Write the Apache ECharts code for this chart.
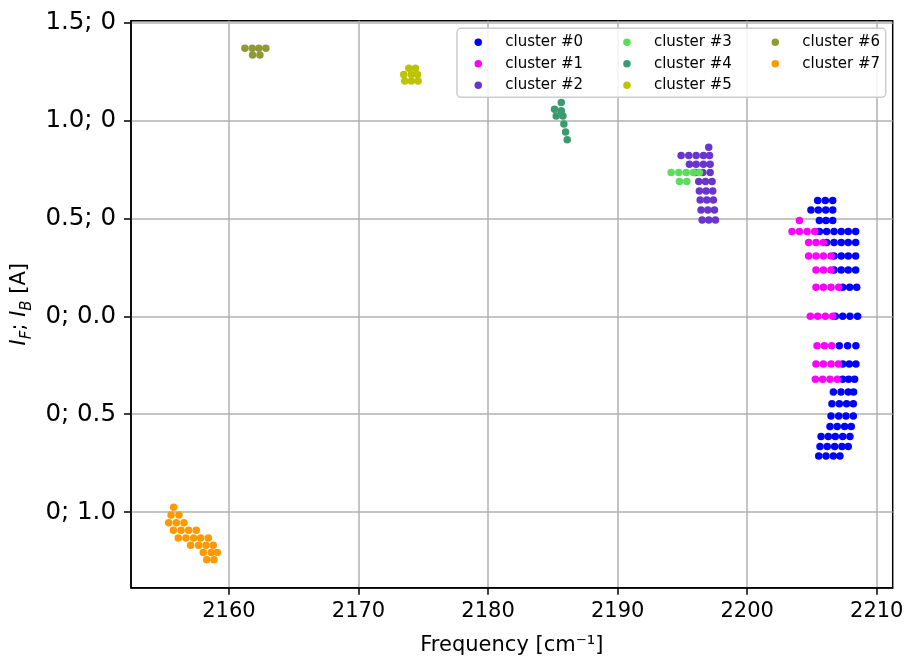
<!DOCTYPE html>
<html><head><meta charset="utf-8">
<script src="https://cdn.jsdelivr.net/npm/echarts@6/dist/echarts.min.js"></script>
<style>html,body{margin:0;padding:0;background:#fff}#c{width:907px;height:658px}</style>
</head><body><div id="c"></div>
<script>
const seriesNames = ['cluster #0','cluster #1','cluster #2','cluster #3','cluster #4','cluster #5','cluster #6','cluster #7'];
const seriesColors = ['#0000ff','#ff00ff','#6a35cf','#5bdd5b','#3a9b6e','#bcc400','#8f9a36','#ff9900'];

const cluster0 = [
  [2205.44,0.590],[2206.03,0.590],[2206.60,0.590],
  [2204.92,0.542],[2205.49,0.542],[2206.06,0.542],[2206.60,0.542],
  [2205.57,0.488],[2206.08,0.488],[2206.60,0.488],
  [2205.57,0.432],[2206.13,0.432],[2206.70,0.432],[2207.26,0.432],[2207.80,0.432],[2208.37,0.432],
  [2206.13,0.376],[2206.70,0.376],[2207.26,0.376],[2207.80,0.376],[2208.37,0.376],
  [2206.70,0.308],[2207.26,0.308],[2207.80,0.308],[2208.37,0.308],
  [2206.70,0.236],[2207.26,0.236],[2207.80,0.236],[2208.37,0.236],
  [2207.37,0.148],[2207.91,0.148],[2208.45,0.148],
  [2206.80,0.000],[2207.37,0.000],[2207.93,0.000],[2208.52,0.000],
  [2207.11,-0.151],[2207.75,-0.151],[2208.39,-0.151],
  [2207.37,-0.243],[2207.88,-0.243],[2208.39,-0.243],
  [2207.37,-0.322],[2207.83,-0.322],[2208.29,-0.322],
  [2206.65,-0.386],[2207.24,-0.386],[2207.80,-0.386],[2208.21,-0.386],
  [2206.54,-0.447],[2207.11,-0.447],[2207.67,-0.447],[2208.19,-0.447],
  [2206.47,-0.509],[2207.06,-0.509],[2207.62,-0.509],[2208.19,-0.509],
  [2206.39,-0.563],[2206.95,-0.563],[2207.52,-0.563],[2208.03,-0.563],
  [2205.70,-0.614],[2206.26,-0.614],[2206.80,-0.614],[2207.37,-0.614],[2207.93,-0.614],
  [2205.62,-0.665],[2206.18,-0.665],[2206.75,-0.665],[2207.31,-0.665],[2207.80,-0.665],
  [2205.52,-0.713],[2206.08,-0.713],[2206.65,-0.713],[2207.16,-0.713]
];
const cluster1 = [
  [2204.03,0.488],
  [2203.46,0.432],[2204.03,0.432],[2204.62,0.432],[2205.21,0.432],
  [2204.74,0.376],[2205.31,0.376],[2205.88,0.376],
  [2204.74,0.308],[2205.31,0.308],[2205.88,0.308],[2206.47,0.308],
  [2205.31,0.236],[2205.88,0.236],[2206.47,0.236],
  [2205.31,0.148],[2205.88,0.148],[2206.47,0.148],[2207.06,0.148],
  [2204.87,0.000],[2205.44,0.000],[2206.03,0.000],[2206.60,0.000],
  [2205.39,-0.151],[2205.95,-0.151],[2206.52,-0.151],
  [2205.31,-0.243],[2205.88,-0.243],[2206.47,-0.243],[2207.03,-0.243],
  [2205.26,-0.322],[2205.82,-0.322],[2206.39,-0.322],[2206.95,-0.322]
];
const cluster2 = [
  [2197.03,0.862],
  [2194.90,0.820],[2195.49,0.820],[2196.06,0.820],[2196.62,0.820],[2197.09,0.820],
  [2195.54,0.775],[2196.06,0.775],[2196.62,0.775],[2197.14,0.775],
  [2196.01,0.733],[2196.57,0.733],[2197.14,0.733],
  [2196.26,0.687],[2196.78,0.687],[2197.29,0.687],
  [2196.31,0.639],[2196.83,0.639],[2197.34,0.639],
  [2196.37,0.593],[2196.88,0.593],[2197.39,0.593],
  [2196.44,0.542],[2196.96,0.542],[2197.47,0.542],
  [2196.52,0.491],[2197.03,0.491],[2197.55,0.491]
];
const cluster3 = [
  [2194.13,0.733],[2194.72,0.733],[2195.29,0.733],[2195.85,0.733],[2196.31,0.733],
  [2194.77,0.687],[2195.34,0.687]
];
const cluster4 = [
  [2185.65,1.090],[2185.13,1.056],[2185.65,1.049],[2185.26,1.022],
  [2185.78,1.022],[2185.85,0.981],[2185.98,0.940],[2186.11,0.900]
];
const cluster5 = [
  [2173.88,1.265],[2174.39,1.265],
  [2173.49,1.234],[2174.08,1.234],[2174.55,1.234],
  [2173.57,1.200],[2174.08,1.200],[2174.60,1.200]
];
const cluster6 = [
  [2161.23,1.367],[2161.80,1.367],[2162.31,1.367],[2162.85,1.367],
  [2161.82,1.333],[2162.39,1.333]
];
const cluster7 = [
  [2155.73,-0.975],
  [2155.53,-1.014],[2156.14,-1.014],
  [2155.35,-1.053],[2155.94,-1.053],[2156.53,-1.053],
  [2155.71,-1.092],[2156.30,-1.092],[2156.89,-1.092],[2157.48,-1.092],
  [2156.09,-1.131],[2156.68,-1.131],[2157.28,-1.131],[2157.82,-1.131],[2158.41,-1.131],
  [2157.04,-1.168],[2157.66,-1.168],[2158.23,-1.168],[2158.79,-1.168],
  [2158.02,-1.206],[2158.64,-1.206],[2159.10,-1.206],
  [2158.28,-1.243],[2158.84,-1.243]
];
const clusters = [cluster0,cluster1,cluster2,cluster3,cluster4,cluster5,cluster6,cluster7];

const xTickValues = [2160,2170,2180,2190,2200,2210];
const yTickValues = [1.5,1.0,0.5,0,-0.5,-1.0];
const yTickLabels = ['1.5; 0','1.0; 0','0.5; 0','0; 0.0','0; 0.5','0; 1.0'];
const xRange = [2152.44, 2211.23];
const yRange = [-1.385, 1.508];

const FF = 'DejaVu Sans';
const chart = echarts.init(document.getElementById('c'), null, {renderer:'canvas'});

function legendCol(names, left) {
  return {
    data: names, orient: 'vertical', left: left, top: 31.5, padding: 0,
    itemWidth: 44, itemHeight: 7.5, itemGap: 0, icon: 'circle', selectedMode: false,
    textStyle: {fontSize: 15, lineHeight: 21.5, color: '#000', fontFamily: FF}
  };
}

const option = {
  animation: false,
  backgroundColor: '#fff',
  grid: {left: 131, right: 14.3, top: 20.7, bottom: 70.3, outerBoundsMode: 'none', containLabel: false,
    show: true, borderColor: '#000', borderWidth: 1.5, backgroundColor: 'transparent'},
  xAxis: {
    type: 'value', min: xRange[0], max: xRange[1],
    name: 'Frequency [cm⁻¹]', nameLocation: 'middle', nameGap: 47,
    nameTextStyle: {fontSize: 21, color: '#000', fontFamily: FF},
    axisLine: {show: true, onZero: false, lineStyle: {color: '#000', width: 1.5}},
    axisTick: {show: true, length: 7, lineStyle: {color: '#000', width: 1.5}, customValues: xTickValues},
    axisLabel: {fontSize: 21, color: '#000', fontFamily: FF, margin: 13, customValues: xTickValues,
      formatter: v => xTickValues.indexOf(v) >= 0 ? String(v) : ''},
    splitLine: {show: true, lineStyle: {color: '#b0b0b0', width: 1.5}}
  },
  yAxis: {
    type: 'value', min: yRange[0], max: yRange[1],
    name: '{i|I}{s|F}{n|; }{i|I}{s|B}{n| [A]}', nameLocation: 'middle', nameGap: 92,
    nameTextStyle: {color: '#000', fontFamily: FF, rich: {
      i: {fontSize: 21, fontStyle: 'italic', lineHeight: 30, fontFamily: FF, color: '#000'},
      n: {fontSize: 21, lineHeight: 30, fontFamily: FF, color: '#000'},
      s: {fontSize: 15, fontStyle: 'italic', lineHeight: 15, verticalAlign: 'bottom', fontFamily: FF, color: '#000'}
    }},
    axisLine: {show: true, onZero: false, lineStyle: {color: '#000', width: 1.5}},
    axisTick: {show: true, length: 7, lineStyle: {color: '#000', width: 1.5}, customValues: yTickValues},
    axisLabel: {fontSize: 24.5, color: '#000', fontFamily: FF, margin: 15, customValues: yTickValues,
      formatter: v => { const k = yTickValues.indexOf(v); return k >= 0 ? yTickLabels[k] : ''; }},
    splitLine: {show: true, lineStyle: {color: '#b0b0b0', width: 1.5}}
  },
  legend: [
    legendCol(seriesNames.slice(0,3), 474.5),
    legendCol(seriesNames.slice(3,6), 623.2),
    legendCol(seriesNames.slice(6,8), 771.5)
  ],
  graphic: {elements: [{
    type: 'rect', z: 3, silent: true,
    shape: {x: 457, y: 28.3, width: 428.7, height: 69, r: 4},
    style: {fill: 'rgba(255,255,255,0.85)', stroke: '#cccccc', lineWidth: 1.5}
  }]},
  series: clusters.map((d, i) => ({
    name: seriesNames[i], type: 'scatter', data: d, symbolSize: 7.5,
    itemStyle: {color: seriesColors[i], opacity: 1}, z: 2 + i * 0.01
  }))
};
chart.setOption(option);
</script></body></html>
